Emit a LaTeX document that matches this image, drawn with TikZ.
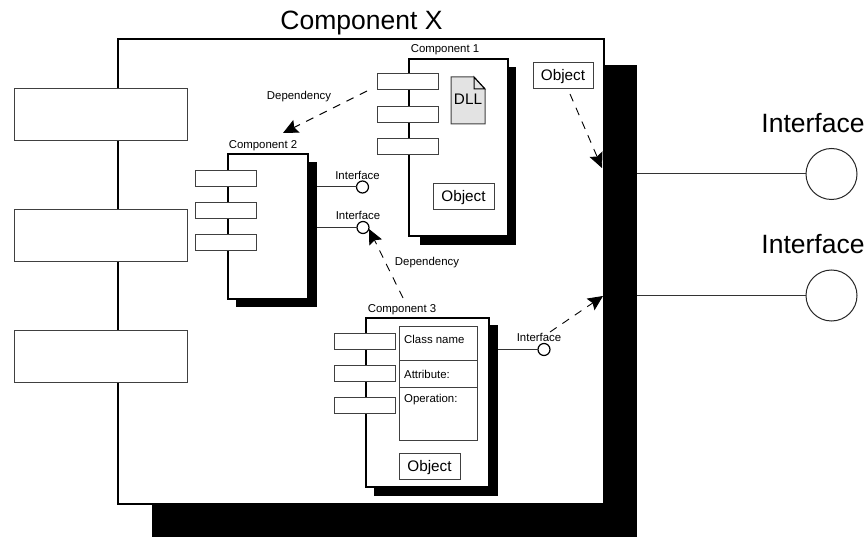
\documentclass[tikz,border=0pt]{standalone}
\usepackage{fontspec}
\setmainfont{Liberation Sans}
\usetikzlibrary{arrows.meta,shapes.misc}
\newcommand{\bx}[6][]{\node[plainbox,#1,minimum width={(#5-#3)*1pt},minimum height={(#6-#4)*1pt}] (#2) at ({(#3+#5)/2},{(#4+#6)/2}) {};}
\tikzset{
  x=1pt,y=-1pt,
  plainbox/.style={draw=black!75,fill=white,line width=1pt,inner sep=0pt,outer sep=0pt},
  shadowbox/.style={draw=none,fill=black},
  compbox/.style={draw=black,line width=2pt},
  outerlbl/.style={font=\fontsize{26.5}{30}\selectfont,inner sep=0pt,anchor=base},
  objlbl/.style={font=\fontsize{15.3}{17}\selectfont,inner sep=0pt,anchor=base},
  smalllbl/.style={font=\fontsize{11.4}{13}\selectfont,inner sep=0pt},
  lolly/.style={circle,draw=black,fill=white,line width=1.2pt,inner sep=0pt,minimum size=12pt,outer sep=0pt},
  bigball/.style={circle,draw=black!85,fill=white,line width=1pt,inner sep=0pt,minimum size=51pt,outer sep=0pt},
  wire/.style={draw=black!80,line width=1pt},
  deparrow/.style={draw=black,line width=0.9pt,dash pattern=on 8pt off 7pt,-{Stealth[length=15pt,width=14pt,inset=2.5pt]}},
}
\begin{document}
\begin{tikzpicture}
\useasboundingbox (0,0) rectangle (868,537);
\fill[white] (0,0) rectangle (868,537);
% Component X
\bx[shadowbox]{xshadow}{152}{65}{637}{537}
\bx[compbox]{xbox}{118}{39}{604}{504}
\node[outerlbl] (xlabel) at (361.5,30) {Component X};
\bx{xp1}{14}{89}{187}{141}
\bx{xp2}{14}{210}{187}{262}
\bx{xp3}{14}{331}{187}{383}
% Component 1
\bx[shadowbox]{cashadow}{420}{67}{516}{245}
\bx[compbox]{cabox}{409}{59}{508}{236}
\node[smalllbl] (calabel) at (445,50) {Component 1};
\bx{cap1}{377}{74}{438}{90}
\bx{cap2}{377}{107}{438}{123}
\bx{cap3}{377}{139}{438}{155}
\bx{caobj}{433}{184}{494}{210}
\node[objlbl] (caobjt) at (463.5,202) {Object};
\path[draw=black!75,fill=black!11,line width=1pt] (451,77) -- (474,77) -- (485,89) -- (485,124) -- (451,124) -- cycle;
\draw[black,line width=1pt] (474,77) -- (474,89) -- (485,89) -- cycle;
\node[objlbl] (dll) at (468,105) {DLL};
% Object outside
\bx{xobj}{533}{63}{593}{89}
\node[objlbl] (xobjt) at (563,81) {Object};
% Component 2
\bx[shadowbox]{cbshadow}{236}{162}{317}{307}
\bx[compbox]{cbbox}{228}{154}{308}{299}
\node[smalllbl] (cblabel) at (263,146) {Component 2};
\bx{cbp1}{195}{171}{256}{187}
\bx{cbp2}{195}{203}{256}{219}
\bx{cbp3}{195}{235}{256}{251}
\node[lolly] (ifa) at (362.5,187) {};
\node[lolly] (ifb) at (363,227.5) {};
\draw[wire] (cbshadow.east |- ifa) -- (ifa);
\draw[wire] (cbshadow.east |- ifb) -- (ifb);
\node[smalllbl] (ifat) at (357.5,175) {Interface};
\node[smalllbl] (ifbt) at (358,215) {Interface};
% Component 3
\bx[shadowbox]{ccshadow}{374}{325}{498}{496}
\bx[compbox]{ccbox}{366}{318}{489}{487}
\node[smalllbl] (cclabel) at (402,310) {Component 3};
\bx{ccp1}{334}{334}{395}{350}
\bx{ccp2}{334}{366}{395}{382}
\bx{ccp3}{334}{398}{395}{414}
\bx{ccn}{399}{327}{477}{361}
\bx{cca}{399}{361}{477}{388}
\bx{cco}{399}{388}{477}{440}
\node[smalllbl,anchor=west] (ccnt) at (404,339) {Class name};
\node[smalllbl,anchor=west] (ccat) at (404,374) {Attribute:};
\node[smalllbl,anchor=west] (ccot) at (404,400) {Operation:};
\bx{ccobj}{399}{453}{460}{479}
\node[objlbl] (ccobjt) at (429.5,471) {Object};
\node[lolly] (ifc) at (544,349.5) {};
\draw[wire] (ccshadow.east |- ifc) -- (ifc);
\node[smalllbl] (ifct) at (539,337) {Interface};
% Outer interfaces
\node[bigball] (ifx) at (831.5,174) {};
\node[bigball] (ify) at (831.5,295.5) {};
\draw[wire] (xshadow.east |- ifx) -- (ifx);
\draw[wire] (xshadow.east |- ify) -- (ify);
\node[outerlbl] (ifxt) at (813,132.5) {Interface};
\node[outerlbl] (ifyt) at (813,254) {Interface};
% Dependencies
\coordinate (d1s) at (367,91);
\coordinate (d1e) at (283,133);
\draw[deparrow] (d1s) -- (d1e);
\node[smalllbl] (d1t) at (299,97) {Dependency};
\coordinate (d2s) at (570,94);
\coordinate (d2e) at (602,168);
\draw[deparrow] (d2s) -- (d2e);
\coordinate (d3s) at (403,298);
\coordinate (d3e) at (369,229);
\draw[deparrow] (d3s) -- (d3e);
\node[smalllbl] (d3t) at (427,263) {Dependency};
\coordinate (d4s) at (550,332);
\coordinate (d4e) at (603,296);
\draw[deparrow] (d4s) -- (d4e);
\end{tikzpicture}
\end{document}
